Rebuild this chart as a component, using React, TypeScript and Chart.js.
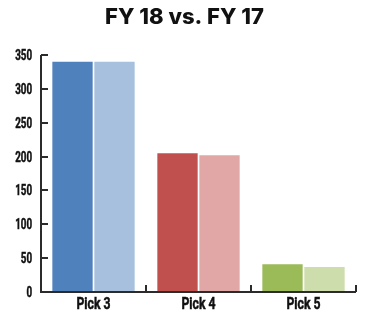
import React, { useEffect, useRef } from "react";
import { Chart, registerables } from "chart.js";

Chart.register(...registerables);

const categories = ["Pick 3", "Pick 4", "Pick 5"];
const fy18Values = [340, 205, 41];
const fy17Values = [340, 202, 37];
const fy18Colors = ["#4F81BD", "#C0504D", "#9BBB59"];
const fy17Colors = ["#A7C0DE", "#E0A7A6", "#CDDDAC"];
const titleText = "FY 18 vs. FY 17";

const AXIS = "#2b2b2b";
const LABEL_FONT = "Roboto, 'Liberation Sans', sans-serif";

function narrowText(ctx: any, text: string, x: number, y: number, size: number, sx: number, align: string, baseline: string) {
  ctx.save();
  ctx.translate(x, y);
  ctx.scale(sx, 1);
  ctx.font = `bold ${size}px ${LABEL_FONT}`;
  ctx.textAlign = align;
  ctx.textBaseline = baseline;
  ctx.fillStyle = "#111";
  ctx.strokeStyle = "#111";
  ctx.lineWidth = 0.5;
  ctx.fillText(text, 0, 0);
  ctx.strokeText(text, 0, 0);
  ctx.restore();
}

const axesAndLabels = {
  id: "axesAndLabels",
  afterDraw(chart: any) {
    const ctx = chart.ctx;
    const { left, right, top, bottom } = chart.chartArea;
    const x = chart.scales.x;
    const y = chart.scales.y;
    ctx.save();
    ctx.strokeStyle = AXIS;
    ctx.lineWidth = 2;
    ctx.beginPath();
    ctx.moveTo(left, top);
    ctx.lineTo(left, bottom);
    ctx.lineTo(right, bottom);
    ctx.stroke();
    ctx.beginPath();
    y.ticks.forEach((t: any) => {
      const py = Math.round(y.getPixelForValue(t.value));
      ctx.moveTo(left, py);
      ctx.lineTo(left + 7, py);
    });
    const n = categories.length;
    const w = (right - left) / n;
    for (let i = 1; i <= n; i++) {
      const px = Math.round(left + w * i);
      ctx.moveTo(px, bottom);
      ctx.lineTo(px, bottom - 7);
    }
    ctx.stroke();
    ctx.restore();

    y.ticks.forEach((t: any) => {
      const py = y.getPixelForValue(t.value);
      narrowText(ctx, String(t.value), left - 9, py + 5, 14, 0.7, "right", "alphabetic");
    });
    categories.forEach((c, i) => {
      const px = x.getPixelForValue(i);
      narrowText(ctx, c, px, bottom + 17, 17, 0.72, "center", "alphabetic");
    });

    ctx.save();
    ctx.fillStyle = "#111";
    ctx.font = "800 22px Inter, Roboto, sans-serif";
    ctx.textAlign = "center";
    ctx.textBaseline = "alphabetic";
    ctx.fillText(titleText, chart.width / 2, 24);
    ctx.restore();
  },
};

export default function App() {
  const ref = useRef<HTMLCanvasElement>(null);
  useEffect(() => {
    document.body.style.margin = "0";
    const chart = new Chart(ref.current!, {
      type: "bar",
      data: {
        labels: categories,
        datasets: [
          { label: "FY 18", data: fy18Values, backgroundColor: fy18Colors, categoryPercentage: 0.8, barPercentage: 0.96 },
          { label: "FY 17", data: fy17Values, backgroundColor: fy17Colors, categoryPercentage: 0.8, barPercentage: 0.96 },
        ],
      },
      options: {
        animation: false,
        responsive: false,
        maintainAspectRatio: false,
        layout: { padding: { top: 55, right: 13, left: 0, bottom: 0 } },
        plugins: { legend: { display: false }, title: { display: false }, tooltip: { enabled: false } },
        scales: {
          x: {
            grid: { display: false, drawTicks: false },
            border: { display: false },
            ticks: { display: false },
            afterFit: (s: any) => { s.height = 20; },
          },
          y: {
            min: 0,
            max: 350,
            grid: { display: false, drawTicks: false },
            border: { display: false },
            ticks: { display: false, stepSize: 50 },
            afterFit: (s: any) => { s.width = 41; },
          },
        },
      },
      plugins: [axesAndLabels],
    });
    return () => chart.destroy();
  }, []);
  return (
    <div style={{ width: 369, height: 312 }}>
      <canvas ref={ref} width={369} height={312} style={{ width: 369, height: 312 }} />
    </div>
  );
}
